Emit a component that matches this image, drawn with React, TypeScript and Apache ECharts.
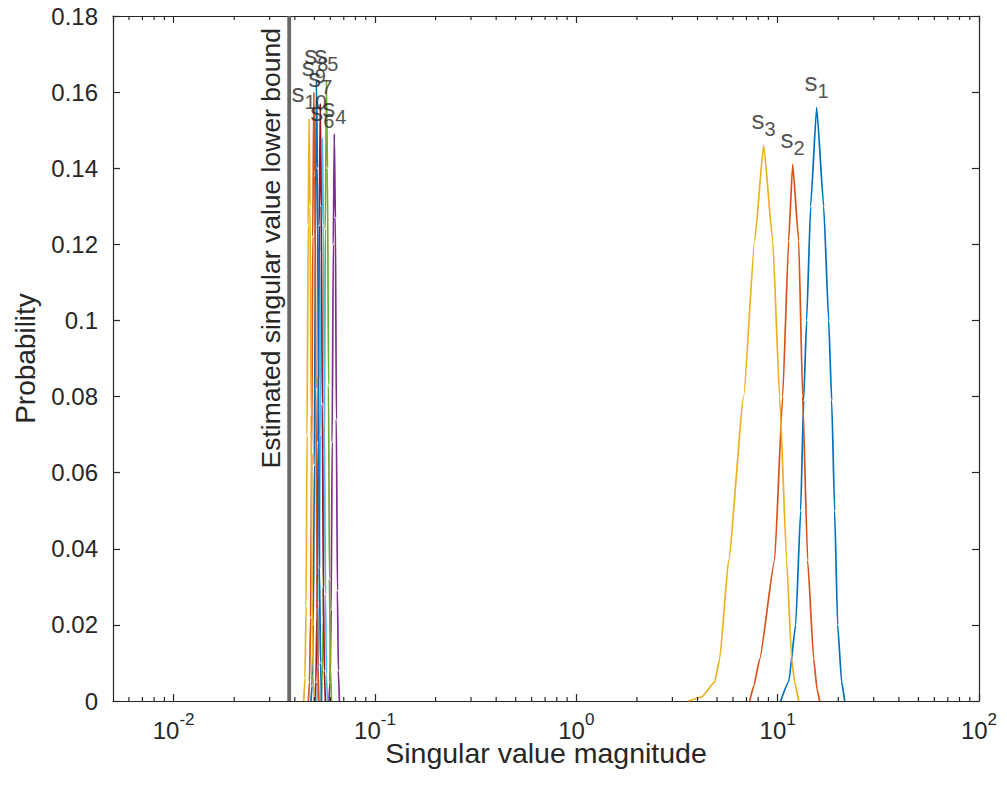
import React, { useEffect, useRef } from 'react';
import * as echarts from 'echarts';

// Axis ranges / ticks
const xMin = 0.005;
const xMax = 100;
const yMin = 0;
const yMax = 0.18;
const yStep = 0.02;
const xMinorTicks = [
  0.006, 0.007, 0.008, 0.009,
  0.02, 0.03, 0.04, 0.05, 0.06, 0.07, 0.08, 0.09,
  0.2, 0.3, 0.4, 0.5, 0.6, 0.7, 0.8, 0.9,
  2, 3, 4, 5, 6, 7, 8, 9,
  20, 30, 40, 50, 60, 70, 80, 90,
];
const xAxisName = 'Singular value magnitude';
const yAxisName = 'Probability';
const lowerBound = 0.0375;
const lowerBoundLabel = 'Estimated singular value lower bound';

// Distributions: singular value (x) and probability (p)
const s1x = [10.35, 11.34, 12.29, 13.01, 13.46, 13.93, 14.58, 15.62, 16.93, 17.92, 18.55, 19.19, 19.86, 20.79, 21.52];
const s1p = [0.0, 0.005, 0.02, 0.05, 0.079, 0.1, 0.13, 0.156, 0.13, 0.1, 0.079, 0.05, 0.02, 0.005, 0.0];
const s2x = [7.26, 7.62, 8.14, 9.66, 10.59, 11.34, 11.87, 12.72, 13.31, 14.09, 15.1, 15.7, 16.17];
const s2p = [0.0, 0.004, 0.011, 0.037, 0.08, 0.121, 0.141, 0.121, 0.08, 0.037, 0.011, 0.003, 0.0];
const s3x = [3.61, 4.19, 4.87, 5.15, 5.71, 6.78, 7.69, 8.52, 9.45, 10.23, 11.08, 11.74, 12.14, 12.72];
const s3p = [0.0, 0.001, 0.005, 0.011, 0.037, 0.08, 0.121, 0.146, 0.121, 0.08, 0.037, 0.011, 0.005, 0.0];
const s4x = [0.0591, 0.0598, 0.0606, 0.0613, 0.0621, 0.0628, 0.0636, 0.0643, 0.0651, 0.0658, 0.0666];
const s4p = [0.0, 0.005, 0.024, 0.068, 0.12, 0.149, 0.127, 0.074, 0.029, 0.008, 0.0];
const s5x = [0.054, 0.0547, 0.0554, 0.056, 0.0567, 0.0574, 0.0581, 0.0588, 0.0594, 0.0601, 0.0608];
const s5p = [0.0, 0.005, 0.022, 0.066, 0.124, 0.163, 0.14, 0.083, 0.032, 0.009, 0.0];
const s6x = [0.0515, 0.0522, 0.0528, 0.0535, 0.0541, 0.0548, 0.0555, 0.0561, 0.0568, 0.0574, 0.0581];
const s6p = [0.0, 0.006, 0.026, 0.07, 0.118, 0.148, 0.125, 0.072, 0.028, 0.007, 0.0];
const s7x = [0.0503, 0.0509, 0.0516, 0.0522, 0.0529, 0.0535, 0.0541, 0.0548, 0.0554, 0.0561, 0.0567];
const s7p = [0.0, 0.005, 0.024, 0.068, 0.125, 0.157, 0.13, 0.078, 0.03, 0.008, 0.0];
const s8x = [0.0481, 0.0487, 0.0494, 0.05, 0.0506, 0.0512, 0.0518, 0.0524, 0.053, 0.0537, 0.0543];
const s8p = [0.0, 0.004, 0.02, 0.062, 0.12, 0.163, 0.14, 0.085, 0.035, 0.01, 0.0];
const s9x = [0.0467, 0.0473, 0.0479, 0.0485, 0.0491, 0.0497, 0.0503, 0.0509, 0.0515, 0.0521, 0.0527];
const s9p = [0.0, 0.005, 0.022, 0.065, 0.122, 0.16, 0.138, 0.082, 0.033, 0.009, 0.0];
const s10x = [0.0443, 0.0449, 0.0455, 0.046, 0.0466, 0.0471, 0.0476, 0.0482, 0.0487, 0.0493, 0.0499];
const s10p = [0.0, 0.006, 0.025, 0.07, 0.125, 0.153, 0.13, 0.075, 0.028, 0.007, 0.0];

const seriesNames = ['1', '2', '3', '4', '5', '6', '7', '8', '9', '10'];
const seriesX = [s1x, s2x, s3x, s4x, s5x, s6x, s7x, s8x, s9x, s10x];
const seriesP = [s1p, s2p, s3p, s4p, s5p, s6p, s7p, s8p, s9p, s10p];
const seriesColors = [
  '#0072BD', '#D95319', '#EDB120', '#7E2F8E', '#77AC30',
  '#4DBEEE', '#A2142F', '#0072BD', '#D95319', '#EDB120',
];

const FONT = '"Liberation Sans", Arial, Helvetica, sans-serif';
const TXT = '#262626';

export default function App() {
  const ref = useRef<HTMLDivElement>(null);
  useEffect(() => {
    if (!ref.current) return;
    const chart = echarts.init(ref.current, undefined, { renderer: 'svg' });

    const lineSeries: any[] = seriesNames.map((name, i) => ({
      type: 'line',
      name: 's' + name,
      data: seriesX[i].map((x, j) => [x, seriesP[i][j]]),
      xAxisIndex: 0,
      yAxisIndex: 0,
      showSymbol: false,
      symbol: 'none',
      smooth: 0.15,
      smoothMonotone: 'x',
      lineStyle: { color: seriesColors[i], width: 1.7 },
      itemStyle: { color: seriesColors[i] },
      z: 3,
    }));

    const peaks = seriesNames.map((name, i) => {
      const p = seriesP[i];
      let k = 0;
      for (let j = 1; j < p.length; j++) if (p[j] > p[k]) k = j;
      return [seriesX[i][k], p[k], name];
    });

    const axisLineStyle = { color: TXT, width: 1.2 };

    const option: any = {
      animation: false,
      textStyle: { fontFamily: FONT },
      grid: { left: 113, right: 28, top: 16, bottom: 94, containLabel: false },
      xAxis: [
        {
          type: 'log',
          logBase: 10,
          min: xMin,
          max: xMax,
          position: 'bottom',
          name: xAxisName,
          nameLocation: 'middle',
          nameGap: 37,
          nameMoveOverlap: false,
          nameTextStyle: { fontSize: 28.5, color: TXT, fontFamily: FONT },
          axisLine: { show: true, onZero: false, lineStyle: axisLineStyle },
          axisTick: { show: true, inside: true, length: 7, lineStyle: axisLineStyle },
          splitLine: { show: false },
          axisLabel: {
            showMinLabel: false,
            margin: 10,
            color: TXT,
            formatter: (v: number) => {
              const e = Math.round(Math.log10(v));
              return '{b|10}{e|' + (e < 0 ? '-' + -e : String(e)) + '}';
            },
            rich: {
              b: { fontSize: 24, color: TXT, fontFamily: FONT },
              e: { fontSize: 17, color: TXT, fontFamily: FONT, padding: [0, 0, 22, 0] },
            },
          },
        },
        {
          type: 'log',
          logBase: 10,
          min: xMin,
          max: xMax,
          position: 'top',
          axisLine: { show: true, onZero: false, lineStyle: axisLineStyle },
          axisTick: { show: true, inside: true, length: 7, lineStyle: axisLineStyle },
          axisLabel: { show: false },
          splitLine: { show: false },
        },
      ],
      yAxis: [
        {
          type: 'value',
          min: yMin,
          max: yMax,
          interval: yStep,
          position: 'left',
          name: yAxisName,
          nameLocation: 'middle',
          nameGap: 74,
          nameMoveOverlap: false,
          nameTextStyle: { fontSize: 28, color: TXT, fontFamily: FONT },
          axisLine: { show: true, onZero: false, lineStyle: axisLineStyle },
          axisTick: { show: true, inside: true, length: 7, lineStyle: axisLineStyle },
          splitLine: { show: false },
          axisLabel: {
            fontSize: 24,
            color: TXT,
            margin: 15,
            fontFamily: FONT,
            formatter: (v: number) => String(+v.toFixed(2)),
          },
        },
        {
          type: 'value',
          min: yMin,
          max: yMax,
          interval: yStep,
          position: 'right',
          axisLine: { show: true, onZero: false, lineStyle: axisLineStyle },
          axisTick: { show: true, inside: true, length: 7, lineStyle: axisLineStyle },
          axisLabel: { show: false },
          splitLine: { show: false },
        },
      ],
      series: [
        ...lineSeries,
        {
          type: 'line',
          name: 'bound',
          data: [[lowerBound, yMin], [lowerBound, yMax]],
          xAxisIndex: 0,
          yAxisIndex: 0,
          showSymbol: false,
          symbol: 'none',
          lineStyle: { color: '#686868', width: 3.8 },
          markLine: {
            silent: true,
            symbol: ['none', 'none'],
            lineStyle: { width: 0, color: 'rgba(0,0,0,0)' },
            label: {
              show: true,
              position: 'insideEndTop',
              formatter: lowerBoundLabel,
              fontSize: 26.5,
              color: TXT,
              fontFamily: FONT,
              distance: [12, 5],
            },
            data: [[{ coord: [lowerBound, yMin] }, { coord: [lowerBound, yMax] }]],
          },
          z: 2,
        },
        {
          type: 'scatter',
          name: 'peaks',
          data: peaks,
          xAxisIndex: 0,
          yAxisIndex: 0,
          symbolSize: 1,
          itemStyle: { color: 'rgba(0,0,0,0)' },
          label: {
            show: true,
            position: 'top',
            distance: 3,
            formatter: (p: any) => '{s|s}{n|' + p.data[2] + '}',
            rich: {
              s: { fontSize: 26, color: TXT, fontFamily: FONT, padding: [0, 0, 9, 0] },
              n: { fontSize: 20, color: TXT, fontFamily: FONT, padding: [9, 0, 0, 0] },
            },
          },
          z: 5,
        },
        {
          type: 'custom',
          name: 'minorTicks',
          xAxisIndex: 0,
          yAxisIndex: 0,
          data: xMinorTicks.map((v) => [v]),
          silent: true,
          clip: false,
          renderItem: (params: any, api: any) => {
            const v = api.value(0);
            const b = api.coord([v, yMin]);
            const t = api.coord([v, yMax]);
            const st = { stroke: TXT, lineWidth: 1.2 };
            return {
              type: 'group',
              children: [
                { type: 'line', shape: { x1: b[0], y1: b[1], x2: b[0], y2: b[1] - 4 }, style: st },
                { type: 'line', shape: { x1: t[0], y1: t[1], x2: t[0], y2: t[1] + 4 }, style: st },
              ],
            };
          },
          z: 4,
        },
      ],
    };
    chart.setOption(option);
    return () => chart.dispose();
  }, []);
  return (
    <div
      ref={ref}
      style={{ position: 'fixed', left: 0, top: 0, width: 1007, height: 795, background: '#fff' }}
    />
  );
}
